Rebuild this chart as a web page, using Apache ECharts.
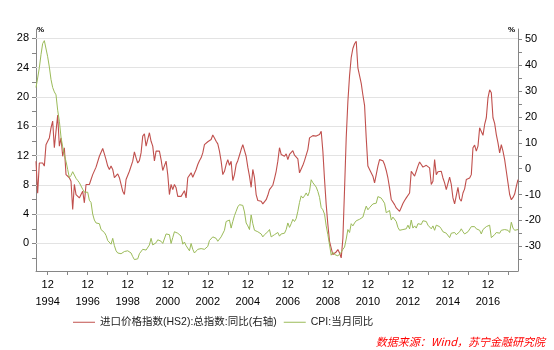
<!DOCTYPE html>
<html><head><meta charset="utf-8">
<script src="https://cdn.jsdelivr.net/npm/echarts@6/dist/echarts.min.js"></script>
<style>html,body{margin:0;padding:0;background:#fff}#c{width:554px;height:350px}</style>
</head><body><div id="c"></div>
<script>
// Monthly categories 1994-05 .. 2018-06
const startYear = 1994, startMonth = 5, endYear = 2018, endMonth = 6;
const categories = [];
for (let y = startYear, m = startMonth; y < endYear || (y === endYear && m <= endMonth);) {
  categories.push(y + '-' + (m < 10 ? '0' + m : m));
  m++; if (m > 12) { m = 1; y++; }
}

// 进口价格指数(HS2):总指数:同比 (right axis)
const importPriceYoY = [
  2.9, -9.5, 2.2, 2.9, 2.2, 1.0, 9.3, 10.6, 11.9, 15.8,
  18.4, 8.1, 14.5, 20.7, 8.7, 11.9, 4.8, 8.1, -2.3, -1.6,
  -3.5, -4.9, -15.8, -6.1, -10, -10.7, -11.3, -10, -8.7, -13.2,
  -6.1, -6.1, -6.1, -4.2, -2.3, -1.6, 0.6, 1.3, 4.8, 5.5,
  7.8, 5.7, 3.5, 1.0, -0.3, 1.0, -0.3, -3.5, -4.2, -2.0,
  -3.5, -6.1, -8.7, -10, -4.2, -4.2, -1, -0.3, 2.9, 6.5,
  4.2, 2.2, 3.1, 6.1, 12.6, 13.5, 8.7, 8.1, 13.9, 10.6,
  8.7, 3.0, 6.8, 6.8, 6.8, 3.5, -0.7, -1.0, 2.9, -2.3,
  -10, -6.1, -8.1, -6.1, -7.4, -10.7, -10.7, -10.7, -10, -8.5,
  -11.3, -3.5, -3.8, -1.6, -3.3, -2.9, -0.3, 1.6, 3.1, 4.2,
  6.1, 9.3, 9.3, 10.4, 10.9, 11.3, 13.0, 11.9, 10.6, 9.6,
  6.8, 2.9, -2.3, -1.0, 1.6, 3.5, 1.3, 2.9, -4.6, -2.3,
  1.6, 3.1, 5.2, 7.4, 9.3, 9.1, 4.8, 0.6, -2.9, -7.2,
  -0.3, -3.5, -10, -12.3, -12.6, -12.6, -13.6, -13.9, -12, -10.3,
  -8.1, -7.7, -6.4, -3.8, -1.0, 2.9, 8.1, 5.5, 6.1, 4.8,
  5.7, 3.5, 5.5, 6.1, 7.0, 5.2, 5.7, 3.8, -1.6, -2.3,
  1.3, 3.1, 2.9, 7.4, 11.9, 12.6, 12.8, 13.2, 12.6, 12.7,
  13.2, 14.5, 6.8, -4.2, -13.9, -21.6, -28.1, -30.7, -33.2, -33.2,
  -32.2, -31.3, -32.6, -34.5, -27, -8, 12, 26, 36, 43,
  46.5, 48.3, 49.3, 39, 38.5, 33, 28.5, 24.5, 11.9, 1.0,
  -0.3, 0.3, -2.9, -5.5, -2.3, 1.0, 3.5, 4.2, 3.1, 1.6,
  -0.7, -3.6, -7.4, -11.9, -12.6, -13.9, -15.2, -15.2, -16.5, -15,
  -13.5, -12.3, -11.3, -10.9, -9.4, -1.0, -1.6, -2.9, -1.0, 1.0,
  2.6, 1.6, 0.6, 0.6, 1.3, 1.9, 0.3, -6.1, -4.9, 3.5,
  -2.3, -1.2, -0.7, -1.0, -3.6, -5.5, -8.1, -7.7, -3.3, -6.1,
  -11.3, -13.6, -13.2, -7.2, -11.6, -12.6, -9.4, -7.8, -4.2, -3.6,
  -3.6, -2.3, 8.1, 9.1, 6.8, 8.7, 15.8, 15.8, 12.9, 17.1,
  19.7, 27.4, 30.5, 29.4, 19.7, 17.5, 13.2, 10, 6.1, 9.3,
  6.8, 3.5, -1.0, -5.5, -10, -12, -11.1, -9.8, -6.8, -4.2
];

// CPI:当月同比 (left axis)
const cpiYoY = [
  21.3, 22.6, 24.0, 25.8, 27.3, 27.7, 27.5, 25.5,
  24.1, 22.4, 21.3, 20.7, 20.3, 18.2, 16.7, 14.5, 13.2, 12.1, 11.2, 10.1,
  9.0, 9.3, 9.8, 9.7, 8.9, 8.6, 8.3, 8.1, 7.4, 7.0, 6.9, 7.0,
  5.9, 5.6, 4.0, 3.2, 2.8, 2.8, 2.7, 1.9, 1.8, 1.5, 1.1, 0.4,
  0.3, -0.1, 0.7, -0.3, -1.0, -1.3, -1.4, -1.4, -1.5, -1.1, -1.2, -1.0,
  -1.2, -1.3, -1.8, -2.2, -2.2, -2.1, -1.4, -1.3, -0.8, -0.6, -0.9, -1.0,
  -0.2, 0.7, -0.2, -0.3, 0.1, 0.5, 0.5, 0.3, 0.0, 0.0, 1.3, 1.5,
  1.2, 0.0, 0.8, 1.6, 1.7, 1.4, 1.5, 1.0, -0.1, 0.2, -0.3, -0.3,
  -1.0, 0.0, -0.8, -1.3, -1.1, -0.8, -0.9, -0.7, -0.7, -0.8, -0.7, -0.4,
  0.4, 0.2, 0.9, 1.0, 0.7, 0.3, 0.5, 0.9, 1.1, 1.8, 3.0, 3.2,
  3.2, 2.1, 3.0, 3.8, 4.4, 5.0, 5.3, 5.3, 5.2, 4.3, 2.8, 2.4,
  1.9, 3.9, 2.7, 1.8, 1.8, 1.6, 1.8, 1.3, 0.9, 1.2, 1.3, 1.6,
  1.9, 0.9, 0.8, 1.2, 1.4, 1.5, 1.0, 1.3, 1.5, 1.4, 1.9, 2.8,
  2.2, 2.7, 3.3, 3.0, 3.4, 4.4, 5.6, 6.5, 6.2, 6.5, 6.9, 6.5,
  7.1, 8.7, 8.3, 8.5, 7.7, 7.1, 6.3, 4.9, 4.6, 4.0, 2.4, 1.2,
  1.0, -1.6, -1.2, -1.5, -1.4, -1.7, -1.8, -1.2, -0.8, -0.5, 0.6, 1.9,
  1.5, 2.7, 2.4, 2.8, 3.1, 2.9, 3.3, 3.5, 3.6, 4.4, 5.1, 4.6,
  4.9, 4.9, 5.4, 5.3, 5.5, 6.4, 6.5, 6.2, 6.1, 5.5, 4.2, 4.1,
  4.5, 3.2, 3.6, 3.4, 3.0, 2.2, 1.8, 2.0, 1.9, 1.7, 2.0, 2.5,
  2.0, 3.2, 2.1, 2.4, 2.1, 2.7, 2.7, 2.6, 3.1, 3.2, 3.0, 2.5,
  2.5, 2.0, 2.4, 1.8, 2.5, 2.3, 2.3, 2.0, 1.6, 1.6, 1.4, 1.5,
  0.8, 1.4, 1.4, 1.5, 1.2, 1.4, 1.6, 2.0, 1.6, 1.3, 1.5, 1.6,
  1.8, 2.3, 2.3, 2.3, 2.0, 1.9, 1.8, 1.3, 1.9, 2.1, 2.3, 2.1,
  2.5, 0.8, 0.9, 1.2, 1.5, 1.5, 1.4, 1.8, 1.6, 1.9, 1.7, 1.8,
  1.5, 2.9, 2.1, 1.8, 1.8, 1.9
];

const leftTickLabels = [0, 4, 8, 12, 16, 20, 24, 28];
const leftTickMarks = [-2, 0, 2, 4, 6, 8, 10, 12, 14, 16, 18, 20, 22, 24, 26, 28];
const rightTickLabels = [-30, -20, -10, 0, 10, 20, 30, 40, 50];
const rightTickMarks = [-35, -30, -25, -20, -15, -10, -5, 0, 5, 10, 15, 20, 25, 30, 35, 40, 45, 50];
const seriesNames = ['进口价格指数(HS2):总指数:同比(右轴)', 'CPI:当月同比'];
const sourceNote = '数据来源：Wind，苏宁金融研究院';

const FONT = '"Liberation Sans", "Noto Sans CJK SC", sans-serif';
const axisGray = '#868686';

const chart = echarts.init(document.getElementById('c'), null, { renderer: 'canvas' });
chart.setOption({
  animation: false,
  backgroundColor: '#fff',
  grid: { left: 36, right: 36, top: 29, bottom: 79, containLabel: false },
  xAxis: {
    type: 'category', data: categories, boundaryGap: false,
    axisLine: { show: true, onZero: false, lineStyle: { color: axisGray, width: 1 } },
    axisTick: { show: true, length: 4, interval: (i, v) => v.endsWith('-12'), lineStyle: { color: axisGray } },
    axisLabel: {
      interval: (i, v) => v.endsWith('-12') && (+v.slice(0, 4)) % 2 === 0,
      formatter: v => v.slice(5) + '\n' + v.slice(0, 4),
      color: '#000', fontSize: 11, lineHeight: 17, margin: 5, fontFamily: FONT
    },
    splitLine: { show: false }
  },
  yAxis: [
    {
      type: 'value', position: 'left', min: -3.76, max: 29.29,
      name: '%', nameLocation: 'end', nameGap: -1,
      nameTextStyle: { fontSize: 8, fontWeight: 'bold', color: '#000', align: 'left', verticalAlign: 'middle', padding: [0, 0, 0, 1], fontFamily: FONT },
      axisLine: { show: true, lineStyle: { color: axisGray, width: 1 } },
      axisTick: { show: true, length: 4, customValues: leftTickMarks, lineStyle: { color: axisGray } },
      axisLabel: { customValues: leftTickLabels, color: '#000', fontSize: 11, margin: 7, fontFamily: FONT },
      splitLine: { show: false }
    },
    {
      type: 'value', position: 'right', min: -39.57, max: 54.02,
      name: '%', nameLocation: 'end', nameGap: -1,
      nameTextStyle: { fontSize: 8, fontWeight: 'bold', color: '#000', align: 'right', verticalAlign: 'middle', padding: [0, 3, 0, 0], fontFamily: FONT },
      axisLine: { show: true, lineStyle: { color: axisGray, width: 1 } },
      axisTick: { show: true, length: 4, customValues: rightTickMarks, lineStyle: { color: axisGray } },
      axisLabel: { customValues: rightTickLabels, color: '#000', fontSize: 11, margin: 7, fontFamily: FONT },
      splitLine: { show: false }
    }
  ],
  legend: {
    left: 73, top: 317, padding: 0, icon: 'rect', itemWidth: 22, itemHeight: 1, itemGap: 7,
    textStyle: { fontSize: 10.5, color: '#222', fontFamily: FONT },
    data: seriesNames
  },
  series: [
    {
      name: seriesNames[0], type: 'line', yAxisIndex: 1, data: importPriceYoY,
      symbol: 'none', showSymbol: false,
      lineStyle: { color: '#c0504d', width: 1.1 }, itemStyle: { color: '#c0504d' }
    },
    {
      name: seriesNames[1], type: 'line', yAxisIndex: 0, data: cpiYoY,
      symbol: 'none', showSymbol: false,
      lineStyle: { color: '#9bbb59', width: 1 }, itemStyle: { color: '#9bbb59' },
      markLine: {
        silent: true, symbol: 'none', z: 1, animation: false,
        label: { show: false },
        lineStyle: { color: '#e3e3e3', width: 1, type: 'solid' },
        emphasis: { disabled: true },
        data: leftTickLabels.map(v => ({ yAxis: v }))
      }
    }
  ],
  graphic: [{
    type: 'text', right: 9, top: 336,
    style: { text: sourceNote, fill: '#ff0000', font: 'italic 11px "Noto Sans CJK SC", sans-serif' }
  }]
});
</script>
</body></html>
